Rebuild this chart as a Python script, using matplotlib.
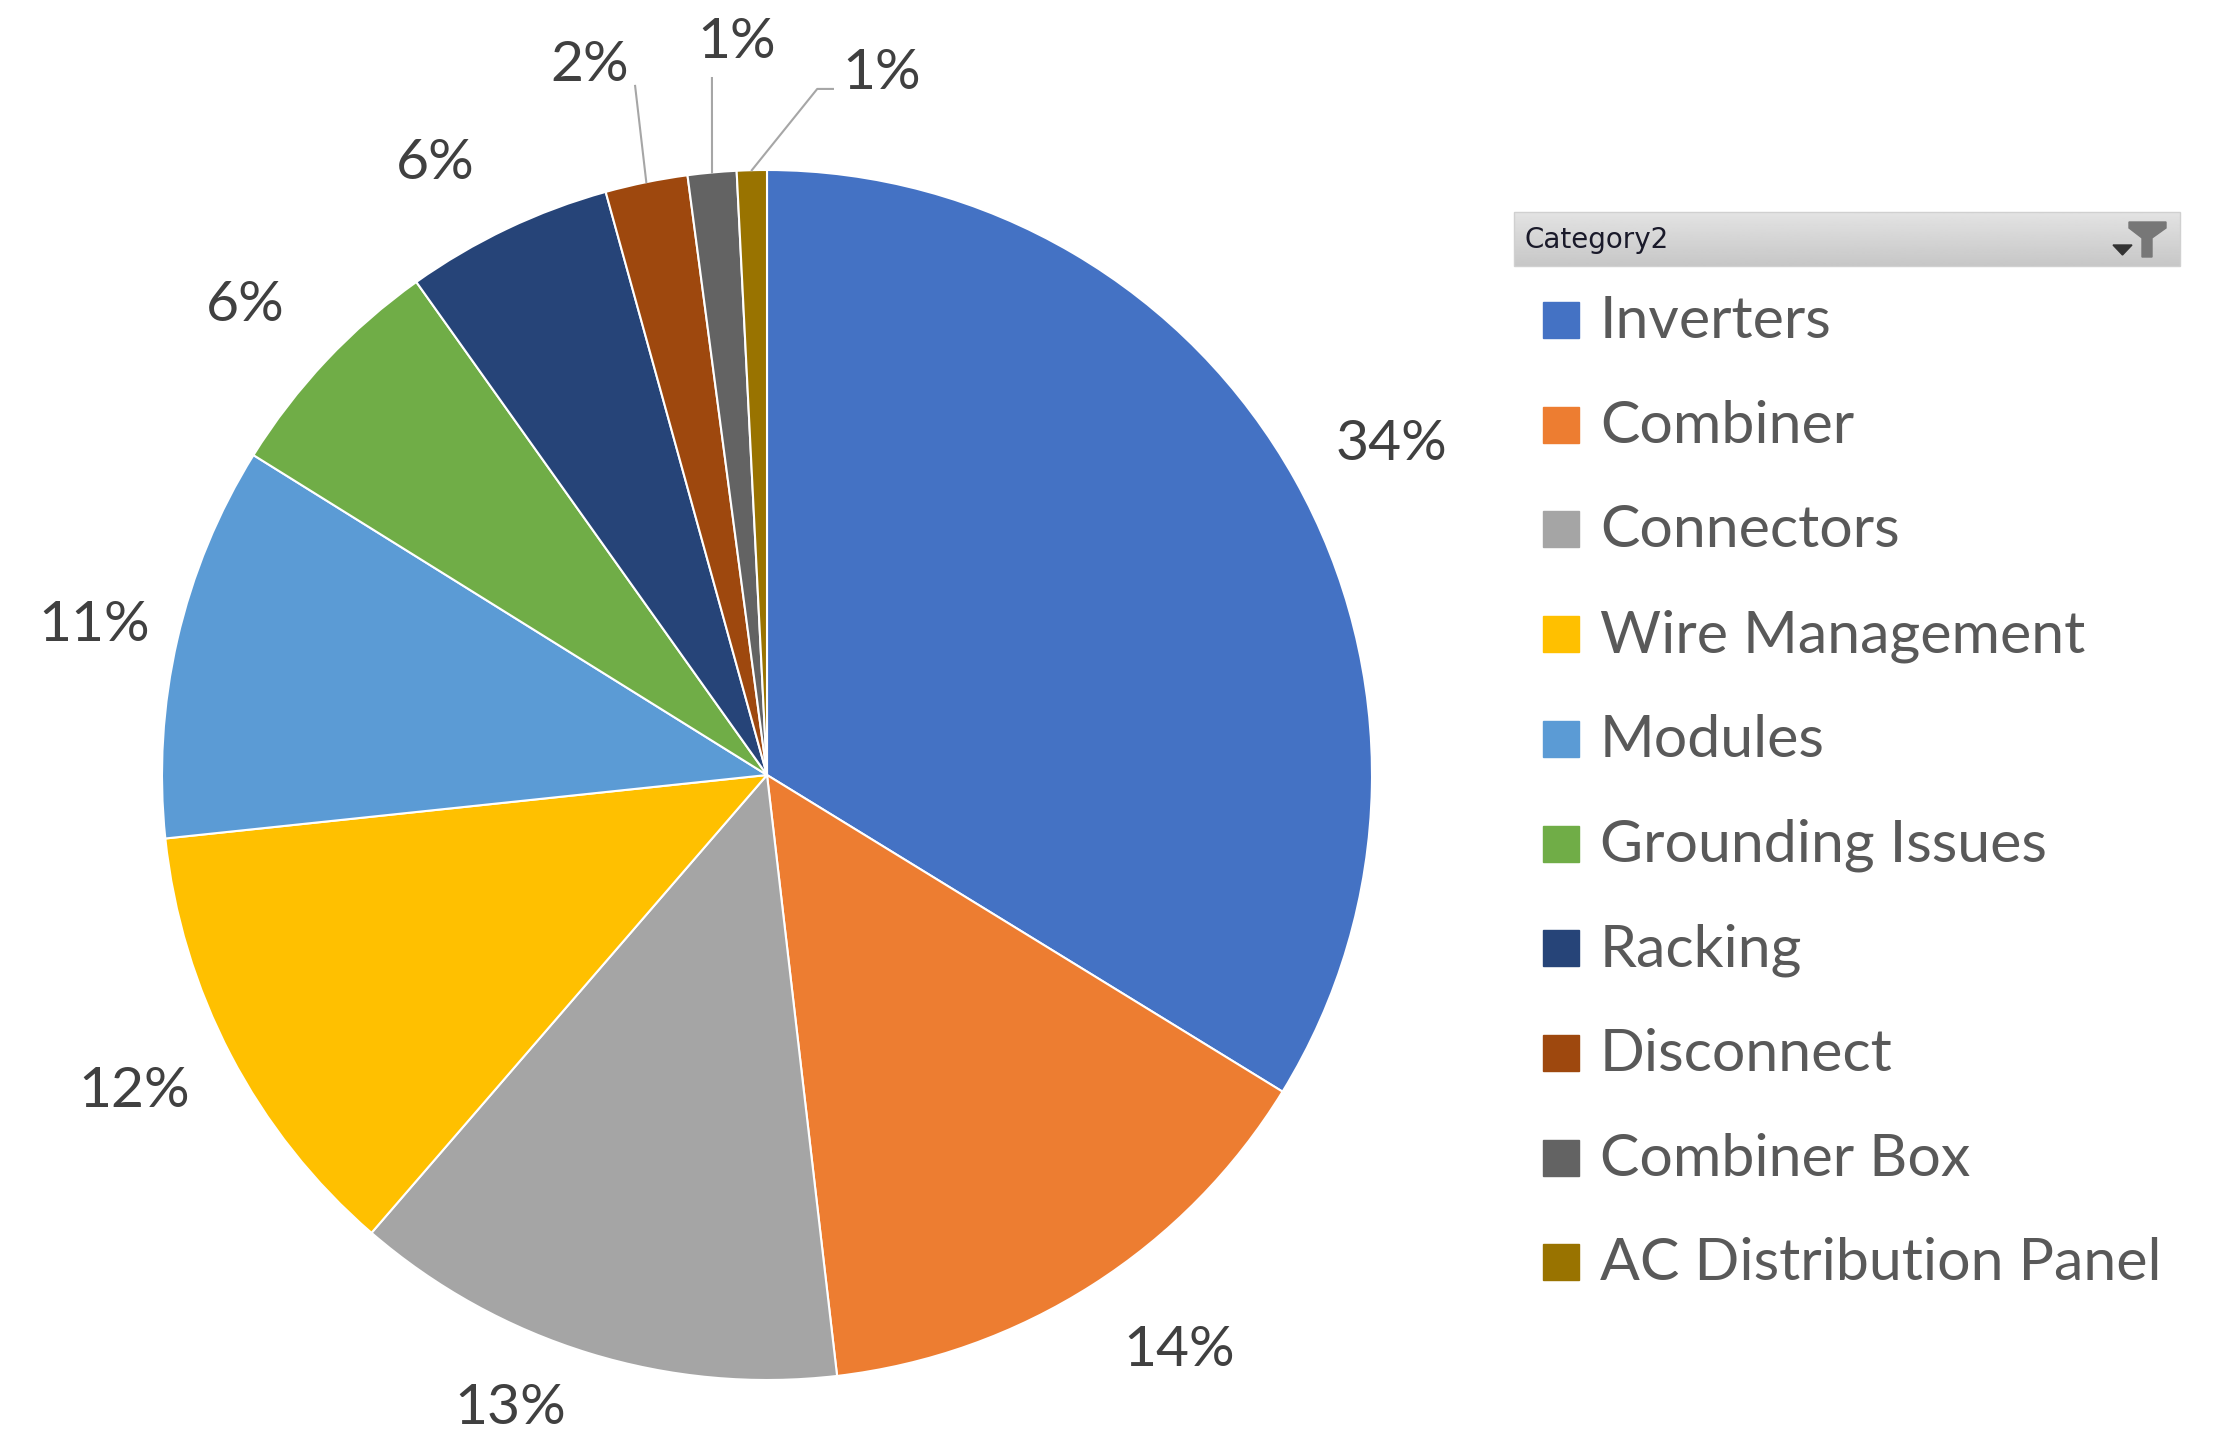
import numpy as np
import matplotlib
matplotlib.use("Agg")
import matplotlib.pyplot as plt
from matplotlib.patches import Rectangle, Polygon

# data (share of issues, %)
categories = ["Inverters", "Combiner", "Connectors", "Wire Management", "Modules",
              "Grounding Issues", "Racking", "Disconnect", "Combiner Box",
              "AC Distribution Panel"]
shares = [33.8, 14.4, 13.2, 12.0, 10.55, 6.3, 5.55, 2.2, 1.3, 0.8]
colors = ["#4472C4", "#ED7D31", "#A5A5A5", "#FFC000", "#5B9BD5",
          "#70AD47", "#264478", "#9E480E", "#636363", "#997300"]

W, H = 2225, 1445
cx, cy, R = 767, 775, 605   # pie centre / radius in pixels

plt.rcParams['font.family'] = ['Lato', 'DejaVu Sans']

fig = plt.figure(figsize=(W / 100, H / 100), dpi=100)

# pixel overlay for legend / header
ov = fig.add_axes([0, 0, 1, 1])
ov.axis('off')

ax = fig.add_axes([(cx - R) / W, (H - cy - R) / H, 2 * R / W, 2 * R / H])
wedges, _ = ax.pie(shares, colors=colors, startangle=90, counterclock=False,
                   radius=1, wedgeprops=dict(edgecolor="white", linewidth=1.5))
ax.set_xlim(-1, 1)
ax.set_ylim(-1, 1)
ax.axis('off')

label_color = "#404040"
pct_size = 41
total = sum(shares)

# label nudges for the big slices: (angle offset in deg, radius)
nudge = {0: (-1.3, 1.168), 1: (3.1, 1.17), 2: (-5.0, 1.13), 3: (-1.0, 1.17),
         4: (0.4, 1.14), 5: (1.3, 1.16), 6: (3.0, 1.15)}
# small slices get leader lines; text placed above the pie (data coords)
small_text = {7: (-0.293, 1.172), 8: (-0.05, 1.21), 9: (0.19, 1.16)}
small_knee = {7: [(-0.218, 1.139)], 8: [(-0.091, 1.152)],
              9: [(0.083, 1.134), (0.109, 1.134)]}

for i, w in enumerate(wedges):
    mid = (w.theta1 + w.theta2) / 2
    txt = "{:.0f}%".format(shares[i] / total * 100)
    if i in small_text:
        m = np.deg2rad(mid)
        pts = [(np.cos(m), np.sin(m))] + small_knee[i]
        xs, ys = zip(*pts)
        ax.plot(xs, ys, color="#A6A6A6", lw=1.5, clip_on=False)
        tx, ty = small_text[i]
        ax.text(tx, ty, txt, ha='center', va='center', fontsize=pct_size,
                color=label_color, clip_on=False)
    else:
        da, r = nudge[i]
        m = np.deg2rad(mid + da)
        ax.text(r * np.cos(m), r * np.sin(m), txt, ha='center', va='center',
                fontsize=pct_size, color=label_color, clip_on=False)

# header bar with gradient
grad = np.linspace(0.89, 0.78, 50).reshape(-1, 1)
ov.imshow(grad, cmap='gray', vmin=0, vmax=1, aspect='auto',
          extent=(1514, 2180, 266, 212), zorder=1)
ov.add_patch(Rectangle((1514, 212), 666, 54, fill=False, edgecolor="#d0d0d0",
                       lw=1, zorder=2))
ov.text(1525, 240, "Category2", fontsize=20, family='DejaVu Sans',
        color="#1a1a2a", va='center', ha='left', zorder=3)
ov.add_patch(Polygon([(2129, 222), (2166, 222), (2166, 228), (2152, 238),
                      (2152, 257), (2142, 257), (2142, 238), (2129, 228)],
                     closed=True, color="#777777", zorder=3))
ov.add_patch(Polygon([(2113, 245), (2132, 245), (2122.5, 255)], closed=True,
                     color="#333333", zorder=3))
ov.set_xlim(0, W)
ov.set_ylim(H, 0)

# legend entries
row0, pitch = 338, 104.7
for i, (name, c) in enumerate(zip(categories, colors)):
    base = row0 + i * pitch
    ov.add_patch(Rectangle((1543, base - 36), 36, 36, color=c))
    ov.text(1600, base, name, fontsize=42.5, color="#595959",
            ha='left', va='baseline')

fig.savefig("out.png", dpi=100)
